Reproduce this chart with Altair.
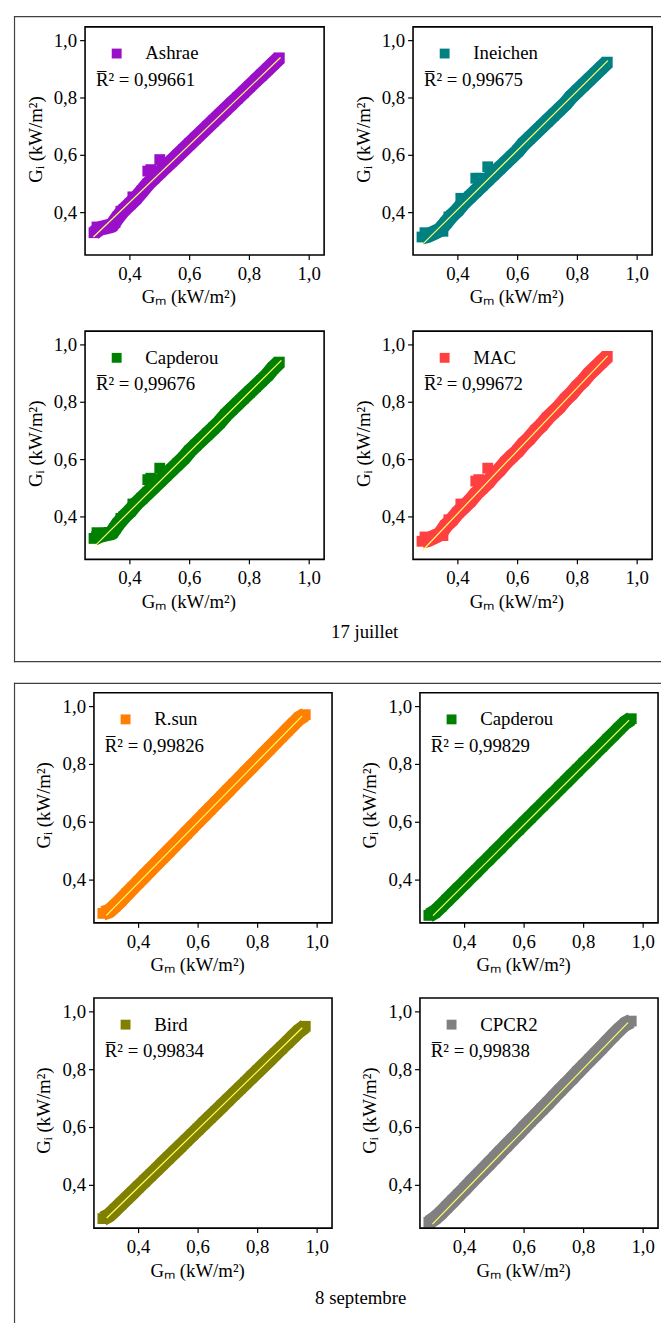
import altair as alt
import pandas as pd

FONT = "'Liberation Serif', 'Times New Roman', Times, serif"
FS = 19
BOX = "#404040"
FIT = "#ffff66"

# ---- 17 juillet ----
gm_jul = [0.28, 0.30, 0.32, 0.34, 0.36, 0.38, 0.40, 0.42, 0.44, 0.46, 0.48, 0.50, 0.52, 0.54, 0.56, 0.58,
          0.60, 0.62, 0.64, 0.66, 0.68, 0.70, 0.72, 0.74, 0.76, 0.78, 0.80, 0.82, 0.84, 0.86, 0.88, 0.90]
gi_ashrae = [0.330, 0.345, 0.350, 0.355, 0.385, 0.410, 0.430, 0.450, 0.475, 0.500, 0.520, 0.540, 0.560, 0.580, 0.600, 0.620,
             0.640, 0.660, 0.680, 0.700, 0.720, 0.740, 0.760, 0.780, 0.800, 0.820, 0.840, 0.860, 0.880, 0.900, 0.920, 0.940]
gi_ineichen = [0.315, 0.320, 0.330, 0.340, 0.365, 0.390, 0.410, 0.435, 0.455, 0.475, 0.495, 0.515, 0.535, 0.555, 0.575, 0.595,
               0.615, 0.640, 0.660, 0.680, 0.700, 0.720, 0.740, 0.760, 0.780, 0.805, 0.825, 0.845, 0.865, 0.885, 0.905, 0.925]
gi_capderou_jul = [0.325, 0.335, 0.340, 0.345, 0.375, 0.400, 0.420, 0.445, 0.465, 0.485, 0.505, 0.525, 0.545, 0.565, 0.585, 0.605,
                   0.630, 0.650, 0.670, 0.690, 0.710, 0.730, 0.755, 0.775, 0.795, 0.815, 0.835, 0.855, 0.875, 0.895, 0.920, 0.940]
gi_mac = [0.315, 0.320, 0.330, 0.340, 0.370, 0.390, 0.415, 0.435, 0.455, 0.480, 0.500, 0.520, 0.545, 0.565, 0.590, 0.610,
          0.630, 0.655, 0.675, 0.700, 0.720, 0.745, 0.765, 0.785, 0.810, 0.830, 0.855, 0.875, 0.900, 0.920, 0.940, 0.960]

# irregular bumps of the July bands
gm_bumps = [0.29, 0.35, 0.37, 0.41, 0.46, 0.47, 0.50]
gi_bumps_ashrae = [0.350, 0.365, 0.405, 0.455, 0.545, 0.550, 0.585]
gi_bumps_ineichen = [0.330, 0.335, 0.385, 0.450, 0.520, 0.520, 0.560]
gi_bumps_capderou = [0.345, 0.360, 0.395, 0.445, 0.530, 0.535, 0.570]
gi_bumps_mac = [0.330, 0.335, 0.390, 0.445, 0.525, 0.530, 0.570]

# ---- 8 septembre ----
gm_sep = [0.28, 0.30, 0.32, 0.34, 0.36, 0.38, 0.40, 0.42, 0.44, 0.46, 0.48, 0.50, 0.52, 0.54, 0.56, 0.58, 0.60, 0.62,
          0.64, 0.66, 0.68, 0.70, 0.72, 0.74, 0.76, 0.78, 0.80, 0.82, 0.84, 0.86, 0.88, 0.90, 0.92, 0.94, 0.96]
gi_rsun = [0.285, 0.292, 0.310, 0.330, 0.352, 0.373, 0.394, 0.415, 0.436, 0.457, 0.478, 0.499, 0.520, 0.541, 0.562, 0.583, 0.604, 0.625,
           0.646, 0.667, 0.688, 0.709, 0.730, 0.751, 0.772, 0.793, 0.814, 0.835, 0.856, 0.877, 0.898, 0.919, 0.940, 0.960, 0.972]
gi_capderou_sep = [0.278, 0.290, 0.309, 0.330, 0.350, 0.371, 0.391, 0.412, 0.432, 0.453, 0.473, 0.494, 0.514, 0.535, 0.556, 0.576, 0.597, 0.617,
                   0.638, 0.658, 0.679, 0.699, 0.720, 0.740, 0.761, 0.781, 0.802, 0.822, 0.843, 0.863, 0.884, 0.904, 0.925, 0.945, 0.958]
gi_bird = [0.285, 0.296, 0.315, 0.335, 0.355, 0.375, 0.395, 0.415, 0.435, 0.455, 0.475, 0.495, 0.515, 0.535, 0.555, 0.575, 0.595, 0.615,
           0.635, 0.655, 0.675, 0.695, 0.715, 0.735, 0.755, 0.775, 0.795, 0.815, 0.835, 0.855, 0.875, 0.895, 0.915, 0.935, 0.950]
gi_cpcr2 = [0.272, 0.286, 0.304, 0.325, 0.346, 0.367, 0.388, 0.410, 0.431, 0.452, 0.473, 0.494, 0.516, 0.537, 0.558, 0.579, 0.601, 0.622,
            0.643, 0.664, 0.685, 0.707, 0.728, 0.749, 0.770, 0.792, 0.813, 0.834, 0.855, 0.876, 0.898, 0.919, 0.940, 0.958, 0.968]

# fitted lines (start, end)
fit_gm = {"Ashrae": [0.278, 0.904], "Ineichen": [0.285, 0.902], "Capderou_j": [0.284, 0.907], "MAC": [0.281, 0.901],
          "R.sun": [0.291, 0.950], "Capderou_s": [0.294, 0.953], "Bird": [0.293, 0.950], "CPCR2": [0.292, 0.949]}
fit_gi = {"Ashrae": [0.315, 0.941], "Ineichen": [0.293, 0.930], "Capderou_j": [0.300, 0.946], "MAC": [0.282, 0.962],
          "R.sun": [0.277, 0.968], "Capderou_s": [0.277, 0.953], "Bird": [0.287, 0.945], "CPCR2": [0.266, 0.963]}

r2_values = {"Ashrae": "0,99661", "Ineichen": "0,99675", "Capderou_j": "0,99676", "MAC": "0,99672",
             "R.sun": "0,99826", "Capderou_s": "0,99829", "Bird": "0,99834", "CPCR2": "0,99838"}
colors = {"Ashrae": "#9a10c8", "Ineichen": "#008080", "Capderou_j": "#008000", "MAC": "#ff4040",
          "R.sun": "#ff8000", "Capderou_s": "#008000", "Bird": "#808000", "CPCR2": "#808080"}

TICKS = [0.4, 0.6, 0.8, 1.0]
TICK_LABELS = ["0,4", "0,6", "0,8", "1,0"]
X_DOMAIN = [0.25, 1.05]
Y_DOMAIN = [0.252, 1.048]
ONE = pd.DataFrame({"k": [0]})


def text(x, y, txt, size=FS, align="center", angle=0):
    return alt.Chart(ONE).mark_text(font=FONT, fontSize=size, align=align, baseline="middle",
                                    color="black", angle=angle).encode(
        x=alt.value(x), y=alt.value(y), text=alt.value(txt))


def rule(x0, x1, y0, y1, color=BOX, width=1.2):
    return alt.Chart(ONE).mark_rule(color=color, strokeWidth=width).encode(
        x=alt.value(x0), x2=alt.value(x1), y=alt.value(y0), y2=alt.value(y1))


def panel(key, label, gm, gi, xgm, xgi, X0, Y0, w, h):
    X1, Y1 = X0 + w, Y0 + h
    color = colors[key]
    xs = alt.Scale(domain=X_DOMAIN, range=[X0, X1], nice=False, zero=False)
    ys = alt.Scale(domain=Y_DOMAIN, range=[Y1, Y0], nice=False, zero=False)
    main = pd.DataFrame({"Gm": gm, "Gi": gi})
    pts = pd.DataFrame({"Gm": gm + xgm, "Gi": gi + xgi})
    fit = pd.DataFrame({"Gm": fit_gm[key], "Gi": fit_gi[key]})
    tk = pd.DataFrame({"t": TICKS, "lab": TICK_LABELS})

    band_line = alt.Chart(main).mark_line(color=color, strokeWidth=15, strokeJoin="round").encode(
        x=alt.X("Gm:Q", scale=xs, axis=None), y=alt.Y("Gi:Q", scale=ys, axis=None), order="Gm:Q")
    band = alt.Chart(pts).mark_square(size=120, opacity=1, color=color).encode(
        x=alt.X("Gm:Q", axis=None), y=alt.Y("Gi:Q", axis=None))
    fit_line = alt.Chart(fit).mark_line(color=FIT, strokeWidth=1.2).encode(
        x=alt.X("Gm:Q", axis=None), y=alt.Y("Gi:Q", axis=None))
    frame = alt.Chart(ONE).mark_rect(fillOpacity=0, stroke="black", strokeWidth=1.6).encode(
        x=alt.XDatum(X_DOMAIN[0], axis=None), x2=alt.X2Datum(X_DOMAIN[1]),
        y=alt.YDatum(Y_DOMAIN[0], axis=None), y2=alt.Y2Datum(Y_DOMAIN[1]))
    x_ticks = alt.Chart(tk).mark_rule(color="black", strokeWidth=1.2).encode(
        x=alt.X("t:Q", axis=None), y=alt.value(Y1), y2=alt.value(Y1 + 5))
    x_labels = alt.Chart(tk).mark_text(font=FONT, fontSize=FS, baseline="middle", color="black").encode(
        x=alt.X("t:Q", axis=None), y=alt.value(Y1 + 19), text="lab:N")
    y_ticks = alt.Chart(tk).mark_rule(color="black", strokeWidth=1.2).encode(
        y=alt.Y("t:Q", axis=None), x=alt.value(X0 - 5), x2=alt.value(X0))
    y_labels = alt.Chart(tk).mark_text(font=FONT, fontSize=FS, align="right", baseline="middle", color="black").encode(
        y=alt.Y("t:Q", axis=None), x=alt.value(X0 - 8), text="lab:N")
    x_title = text(X0 + 105, Y1 + 43, "Gₘ (kW/m²)")
    y_title = text(X0 - 50, Y0 + 114, "Gᵢ (kW/m²)", angle=270)
    leg_sq = alt.Chart(ONE).mark_square(size=100, opacity=1, color=color).encode(
        x=alt.value(X0 + 32), y=alt.value(Y0 + 27))
    leg_lab = text(X0 + 61, Y0 + 27, label, align="left")
    r2_txt = text(X0 + 11, Y0 + 54, "R\u0305\u00b2 = " + r2_values[key], align="left")
    return alt.layer(band_line, band, fit_line, frame, x_ticks, x_labels, y_ticks, y_labels,
                     x_title, y_title, leg_sq, leg_lab, r2_txt)


# group 1 : 17 juillet (chart coordinates = page - 8)
W1, H1 = 242, 231
p1 = panel("Ashrae", "Ashrae", gm_jul, gi_ashrae, gm_bumps, gi_bumps_ashrae, 78, 11, W1, H1)
p2 = panel("Ineichen", "Ineichen", gm_jul, gi_ineichen, gm_bumps, gi_bumps_ineichen, 410, 11, W1, H1)
p3 = panel("Capderou_j", "Capderou", gm_jul, gi_capderou_jul, gm_bumps, gi_bumps_capderou, 78, 319, W1, H1)
p4 = panel("MAC", "MAC", gm_jul, gi_mac, gm_bumps, gi_bumps_mac, 410, 319, W1, H1)

# group 2 : 8 septembre
W2, H2 = 241, 233
q1 = panel("R.sun", "R.sun", gm_sep, gi_rsun, [], [], 87, 685, W2, H2)
q2 = panel("Capderou_s", "Capderou", gm_sep, gi_capderou_sep, [], [], 417, 685, W2, H2)
q3 = panel("Bird", "Bird", gm_sep, gi_bird, [], [], 87, 994, W2, H2)
q4 = panel("CPCR2", "CPCR2", gm_sep, gi_cpcr2, [], [], 417, 994, W2, H2)

boxes = [
    rule(6, 661, 0.6, 0.6), rule(6.6, 6.6, 0, 654.2), rule(6, 661, 653.6, 653.6),
    rule(6, 661, 675.6, 675.6), rule(6.6, 6.6, 675, 1323),
]
titles = [text(361, 624, "17 juillet"), text(357, 1298, "8 septembre")]

chart = alt.layer(p1, p2, p3, p4, q1, q2, q3, q4, *boxes, *titles).resolve_scale(
    x="independent", y="independent"
).properties(
    width=661, height=1323, padding=0, background="white",
    autosize=alt.AutoSizeParams(type="none"),
).configure_view(stroke="transparent")

chart.save("out.html", embed_options={"renderer": "svg", "actions": False})
